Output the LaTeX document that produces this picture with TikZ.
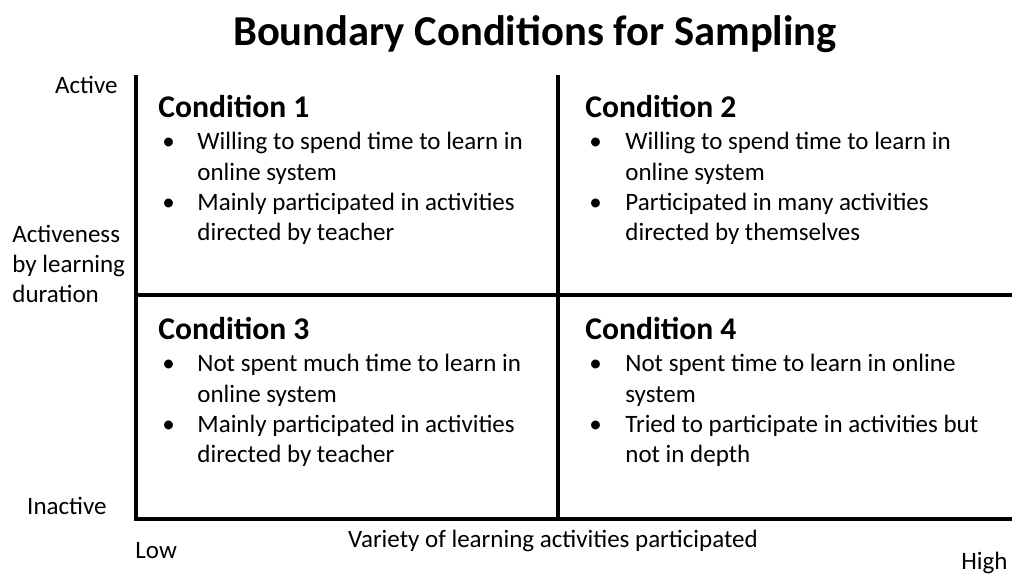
\documentclass[tikz,border=0pt]{standalone}
\usepackage{fontspec}
\setmainfont{Carlito}
\begin{document}
\begin{tikzpicture}
[x=0.5pt,y=-0.5pt,
  axisDecorate/.style={line width=2pt},
  titleDecorate/.style={inner sep=0pt,anchor=base,font=\bfseries\fontsize{21.3}{25}\selectfont},
  headDecorate/.style={inner sep=0pt,anchor=base west,font=\bfseries\fontsize{15.8}{18}\selectfont},
  textDecorate/.style={inner sep=0pt,anchor=base west,font=\fontsize{12.5}{15}\selectfont},
  labelDecorate/.style={inner sep=0pt,font=\fontsize{12.5}{15}\selectfont}]
\useasboundingbox (0,0) rectangle (1012,574);
%% title
\node (title) at (535,45) [titleDecorate] {Boundary Conditions for Sampling};
%% axes and quadrant lines
\coordinate (top) at (136,75);
\coordinate (origin) at (136,519);
\coordinate (right) at (1012,519);
\coordinate (midtop) at (558,75);
\coordinate (midbottom) at (558,519);
\coordinate (midleft) at (136,295);
\coordinate (midright) at (1012,295);
\draw[axisDecorate] (top) -- (origin) -- (right);
\draw[axisDecorate] (midtop) -- (midbottom);
\draw[axisDecorate] (midleft) -- (midright);
%% axis labels
\node (active) at (118,93) [labelDecorate,anchor=base east] {Active};
\node (activeness) at (12,302) [labelDecorate,anchor=base west,align=left]
  {Activeness\\by learning\\duration};
\node (inactive) at (107,514) [labelDecorate,anchor=base east] {Inactive};
\node (low) at (135,558) [labelDecorate,anchor=base west] {Low};
\node (variety) at (553,547) [labelDecorate,anchor=base] {Variety of learning activities participated};
\node (high) at (1008,569) [labelDecorate,anchor=base east] {High};
%% condition headings
\foreach \name/\x/\y/\label in {
  c1/158/117/Condition 1, c2/585/117/Condition 2,
  c3/158/339/Condition 3, c4/585/339/Condition 4}
{
  \node (\name) at (\x,\y) [headDecorate] {\label};
}
%% bullets
\foreach \name/\x/\y in {
  b1/162/149, b2/162/210, b3/589/149, b4/589/210,
  b5/162/371, b6/162/432, b7/589/371, b8/589/432}
{
  \node (\name) at (\x,\y) [textDecorate] {\textbullet};
}
%% bullet lines
\foreach \name/\x/\y/\line in {
  t1/197/149/Willing to spend time to learn in,
  t2/197/180/online system,
  t3/197/210/Mainly participated in activities,
  t4/197/240/directed by teacher,
  t5/625/149/Willing to spend time to learn in,
  t6/625/180/online system,
  t7/625/210/Participated in many activities,
  t8/625/240/directed by themselves,
  t9/197/371/Not spent much time to learn in,
  t10/197/402/online system,
  t11/197/432/Mainly participated in activities,
  t12/197/462/directed by teacher,
  t13/625/371/Not spent time to learn in online,
  t14/625/402/system,
  t15/625/432/Tried to participate in activities but,
  t16/625/462/not in depth}
{
  \node (\name) at (\x,\y) [textDecorate] {\line};
}
\end{tikzpicture}
\end{document}
